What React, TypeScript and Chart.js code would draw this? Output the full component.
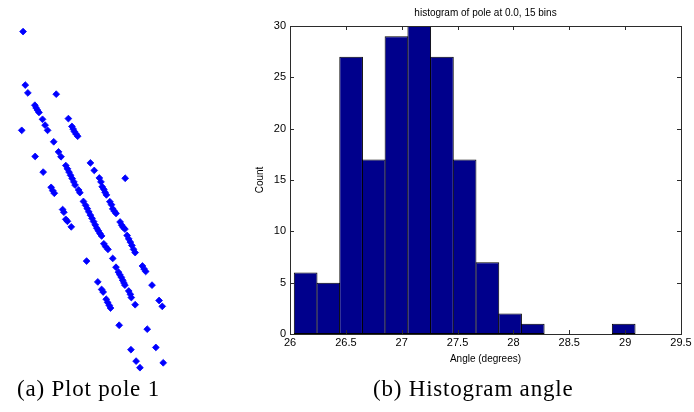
import React, { useEffect, useRef } from "react";
import { Chart, registerables } from "chart.js";

Chart.register(...registerables);

// ---- Left panel: "Plot pole 1" scatter (x, y) ----
const polePoints: [number, number][] = [
  [19.7, 28],
  [22, 82.7], [24.7, 90.7], [54.3, 92],
  [32, 103.3], [33.3, 106], [34.7, 108.3], [36.3, 110.7],
  [40, 117.7], [42.7, 123.7], [45.3, 129], [18.3, 129],
  [67, 117], [70.7, 125], [72, 127.7], [73.3, 130.3], [75, 132.7], [76.7, 135],
  [51.7, 140.7], [56.7, 151], [59.3, 156], [32.3, 155.7], [40.7, 171.7],
  [64.3, 165], [66, 168.3], [67.7, 171.7], [69.3, 175], [71, 178.3], [72.7, 181.7], [74, 185],
  [77.7, 190], [79, 192.7],
  [49, 187.3], [50.7, 190.7], [52.3, 193.3],
  [90, 162.3], [94, 170], [99.3, 177.7], [101, 181.7],
  [102.3, 186.7], [104, 189.3], [105.3, 192.3], [106.7, 195],
  [126.3, 178],
  [110.3, 202], [112, 205], [113.3, 209.3], [115, 211.7], [116.7, 214],
  [82.7, 201.7], [85, 205.7], [86.7, 209], [88.3, 212.3], [90, 215.7], [91.7, 219],
  [93.3, 222.3], [95, 225.7], [96.7, 229], [98.3, 231.7], [100, 234.5], [101.7, 237],
  [61, 210], [62.3, 212.7], [64.3, 220], [66, 222], [70, 227.7],
  [121, 222.7], [122.7, 226], [124.3, 228.3], [126, 230],
  [128.3, 236.5], [130, 240], [131.7, 243.3], [133.3, 246.7], [135, 250.7], [136.7, 254],
  [104, 245], [106, 248], [108.3, 250.7],
  [86, 262.7], [113.3, 260],
  [116.7, 269], [119.3, 274], [120.7, 276.7], [122.3, 279.3], [123.7, 282.3], [125, 285], [126, 287.3],
  [144.3, 267.7], [146, 270.7], [147.7, 273.3], [154.3, 287.3],
  [97.7, 284], [101.7, 291.7], [103.3, 294.3],
  [130, 293.3], [131.7, 296.7], [132.7, 300],
  [106.5, 301.7], [108, 305], [109.7, 308], [111, 310.7],
  [136.7, 307.3], [161.7, 303], [165, 309],
  [120, 328.3], [149.3, 332.3],
  [132.3, 353.3], [158.3, 351], [137.7, 365], [141.7, 371.7], [166, 366.7],
];

// ---- Right panel: histogram ----
const histTitle = "histogram of pole at 0.0, 15 bins";
const binCenters = [
  26.14, 26.343, 26.547, 26.75, 26.953, 27.157, 27.36, 27.563,
  27.767, 27.97, 28.173, 28.377, 28.58, 28.783, 28.987,
];
const binCounts = [6, 5, 27, 17, 29, 30, 27, 17, 7, 2, 1, 0, 0, 0, 1];
const xTicks = [26, 26.5, 27, 27.5, 28, 28.5, 29, 29.5];
const yTicks = [0, 5, 10, 15, 20, 25, 30];

const SANS = "'Liberation Sans', Arial, sans-serif";

const matlabAxes = {
  id: "matlabAxes",
  afterDatasetsDraw(chart: any) {
    const { ctx, chartArea: a, scales } = chart;
    const L = Math.round(a.left), R = Math.round(a.right);
    const T = Math.round(a.top), B = Math.round(a.bottom);
    ctx.save();
    ctx.strokeStyle = "#2b2b2b";
    ctx.lineWidth = 1;
    ctx.strokeRect(L + 0.5, T + 0.5, R - L, B - T);
    const len = 4;
    ctx.beginPath();
    for (const t of scales.x.ticks) {
      if (t.value === xTicks[0] || t.value === xTicks[xTicks.length - 1]) continue;
      const px = Math.round(scales.x.getPixelForValue(t.value)) + 0.5;
      ctx.moveTo(px, B);
      ctx.lineTo(px, B - len);
      ctx.moveTo(px, T);
      ctx.lineTo(px, T + len);
    }
    for (const t of scales.y.ticks) {
      if (t.value === yTicks[0] || t.value === yTicks[yTicks.length - 1]) continue;
      const py = Math.round(scales.y.getPixelForValue(t.value)) + 0.5;
      ctx.moveTo(L, py);
      ctx.lineTo(L + len, py);
      ctx.moveTo(R, py);
      ctx.lineTo(R - len, py);
    }
    ctx.stroke();
    ctx.restore();
  },
};

function ScatterPanel() {
  const ref = useRef<HTMLCanvasElement>(null);
  useEffect(() => {
    const chart = new Chart(ref.current!, {
      type: "scatter",
      data: {
        datasets: [
          {
            data: polePoints.map(([x, y]) => ({ x, y })),
            pointStyle: "rectRot",
            pointRadius: 3.4,
            pointHoverRadius: 3.4,
            backgroundColor: "#0000FF",
            borderColor: "#0000FF",
            borderWidth: 0.8,
            clip: false as any,
          },
        ],
      },
      options: {
        responsive: false,
        animation: false,
        devicePixelRatio: 1,
        events: [],
        layout: { padding: 0 },
        plugins: { legend: { display: false }, tooltip: { enabled: false } },
        scales: {
          x: { type: "linear", display: false, min: 0, max: 200 },
          y: { type: "linear", display: false, min: 0, max: 380, reverse: true },
        },
      },
    });
    return () => chart.destroy();
  }, []);
  return (
    <canvas
      ref={ref}
      width={200}
      height={380}
      style={{ position: "absolute", left: 0, top: 0, width: 200, height: 380 }}
    />
  );
}

function HistogramPanel() {
  const ref = useRef<HTMLCanvasElement>(null);
  useEffect(() => {
    const chart = new Chart(ref.current!, {
      type: "bar",
      data: {
        datasets: [
          {
            data: binCenters.map((x, i) => ({ x, y: binCounts[i] })),
            backgroundColor: "#00008C",
            borderColor: "#000000",
            borderWidth: 1,
            borderSkipped: false,
            barPercentage: 1.044,
            categoryPercentage: 1,
          } as any,
        ],
      },
      options: {
        responsive: false,
        animation: false,
        devicePixelRatio: 1,
        events: [],
        layout: { padding: { left: 0, right: 13, top: 0, bottom: 0 } },
        plugins: {
          legend: { display: false },
          tooltip: { enabled: false },
          title: {
            display: true,
            text: histTitle,
            fullSize: false,
            color: "#000",
            font: { family: SANS, size: 10, weight: "normal" },
            padding: { top: 7, bottom: 7 },
          },
        },
        scales: {
          x: {
            type: "linear",
            min: 26,
            max: 29.5,
            offset: false,
            grid: { display: false, drawTicks: false },
            border: { display: false },
            afterBuildTicks: (s: any) => {
              s.ticks = xTicks.map((v) => ({ value: v }));
            },
            afterFit: (s: any) => {
              s.height = 46;
              s.paddingLeft = 0;
              s.paddingRight = 0;
            },
            ticks: {
              color: "#000",
              padding: 2,
              maxRotation: 0,
              autoSkip: false,
              font: { family: SANS, size: 11 },
              callback: (v: any) => String(v),
            },
            title: {
              display: true,
              text: "Angle (degrees)",
              color: "#000",
              font: { family: SANS, size: 10 },
              padding: { top: 0, bottom: 15 },
            },
          },
          y: {
            type: "linear",
            min: 0,
            max: 30,
            grid: { display: false, drawTicks: false },
            border: { display: false },
            afterBuildTicks: (s: any) => {
              s.ticks = yTicks.map((v) => ({ value: v }));
            },
            afterFit: (s: any) => {
              s.width = 70;
              s.paddingTop = 0;
              s.paddingBottom = 0;
            },
            ticks: {
              color: "#000",
              padding: 4,
              autoSkip: false,
              font: { family: SANS, size: 11 },
              callback: (v: any) => String(v),
            },
            title: {
              display: true,
              text: "Count",
              color: "#000",
              font: { family: SANS, size: 10 },
              padding: { top: 34, bottom: 0 },
            },
          },
        },
      },
      plugins: [matlabAxes],
    });
    return () => chart.destroy();
  }, []);
  return (
    <canvas
      ref={ref}
      width={474}
      height={380}
      style={{ position: "absolute", left: 220, top: 0, width: 474, height: 380 }}
    />
  );
}

const captionStyle: React.CSSProperties = {
  position: "absolute",
  top: 378,
  fontFamily: "'Liberation Serif', 'Times New Roman', serif",
  fontSize: 23,
  lineHeight: "22px",
  letterSpacing: "0.8px",
  whiteSpace: "nowrap",
  color: "#000",
};

export default function App() {
  return (
    <div
      style={{
        position: "absolute",
        left: 0,
        top: 0,
        width: 694,
        height: 412,
        background: "#fff",
        overflow: "hidden",
      }}
    >
      <ScatterPanel />
      <HistogramPanel />
      <div style={{ ...captionStyle, left: 17 }}>(a) Plot pole 1</div>
      <div style={{ ...captionStyle, left: 373 }}>(b) Histogram angle</div>
    </div>
  );
}
